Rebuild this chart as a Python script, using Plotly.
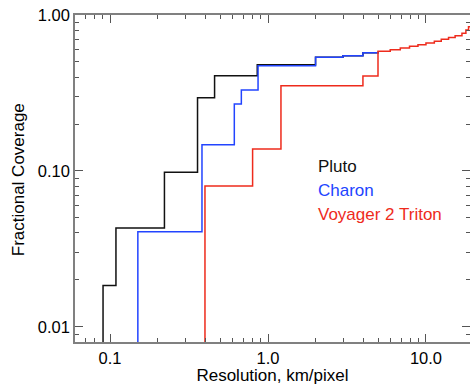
import plotly.graph_objects as go

# Resolution step positions (km/pixel) and cumulative fractional coverage after each step
pluto_x = [0.0903, 0.0903, 0.109, 0.221, 0.358, 0.459, 0.855, 2.0, 2.98, 3.99, 4.97]
pluto_y = [0.001, 0.0184, 0.043, 0.098, 0.295, 0.408, 0.479, 0.536, 0.548, 0.573, 0.582]

charon_x = [0.150, 0.150, 0.382, 0.612, 0.678, 0.865, 2.0, 2.98, 3.99, 4.97]
charon_y = [0.001, 0.0408, 0.147, 0.269, 0.331, 0.472, 0.536, 0.548, 0.573, 0.582]

triton_x = [0.399, 0.399, 0.799, 1.208, 3.99, 4.97, 5.94, 6.88, 7.87, 8.90, 10.0,
            11.3, 12.5, 13.9, 15.3, 16.9, 17.9, 18.6, 20.0]
triton_y = [0.001, 0.080, 0.138, 0.352, 0.406, 0.585, 0.599, 0.615, 0.630, 0.645, 0.661,
            0.678, 0.698, 0.716, 0.737, 0.763, 0.80, 0.84, 0.84]

series_names = ["Pluto", "Charon", "Voyager 2 Triton"]
series_colors = ["#111111", "#2244ff", "#ee2b1c"]

y_tickvals = [0.01, 0.1, 1.0]
y_ticktext = ["0.01", "0.10", "1.00"]
x_tickvals = [0.1, 1.0, 10.0]
x_ticktext = ["0.1", "1.0", "10.0"]
minor_vals = [k * 10.0 ** e for e in range(-3, 2) for k in range(2, 10)]

X_RANGE = [-1.2218, 1.2788]
Y_RANGE = [-2.097, 0.0]

FONT = "Liberation Sans, Arial, Helvetica, sans-serif"

fig = go.Figure()
# Triton lives on the overlay axes (identical ranges) so that those axes get drawn, on top
trace_axes = [("x", "y"), ("x", "y"), ("x2", "y2")]
for xs, ys, name, col, (xa, ya) in zip([pluto_x, charon_x, triton_x], [pluto_y, charon_y, triton_y],
                                       series_names, series_colors, trace_axes):
    fig.add_trace(go.Scatter(x=xs, y=ys, mode="lines", name=name, xaxis=xa, yaxis=ya,
                             line=dict(color=col, width=1.5, shape="hv"),
                             showlegend=False, cliponaxis=True))

for i, (name, col) in enumerate(zip(series_names, series_colors)):
    fig.add_annotation(x=0.609, y=0.538 - i * 0.0735, xref="paper", yref="paper",
                       text=name, showarrow=False, xanchor="left", yanchor="middle",
                       font=dict(family=FONT, size=17, color=col))

fig.add_annotation(x=-0.144, y=0.495, xref="paper", yref="paper", text="Fractional Coverage",
                   textangle=-90, showarrow=False, xanchor="center", yanchor="middle",
                   font=dict(family=FONT, size=17, color="black"))

axis_common = dict(type="log", showgrid=False, zeroline=False, showline=True,
                   linecolor="#808080", linewidth=1.5, mirror="allticks", automargin=False,
                   ticks="inside", ticklen=8, tickwidth=1.2, tickcolor="#555555",
                   tickfont=dict(family=FONT, size=16.5, color="black"))

minor_common = dict(type="log", showgrid=False, zeroline=False, showline=False,
                    mirror="allticks", automargin=False, showticklabels=False,
                    ticks="inside", ticklen=4, tickwidth=1.2, tickcolor="#555555",
                    tickmode="array", tickvals=minor_vals)

fig.update_layout(
    xaxis=dict(**axis_common, range=X_RANGE, tickvals=x_tickvals, ticktext=x_ticktext,
               title=dict(text="Resolution, km/pixel",
                          font=dict(family=FONT, size=17, color="black"))),
    yaxis=dict(**axis_common, range=Y_RANGE, tickvals=y_tickvals, ticktext=y_ticktext),
    xaxis2=dict(**minor_common, range=X_RANGE, overlaying="x", anchor="y2", side="bottom"),
    yaxis2=dict(**minor_common, range=Y_RANGE, overlaying="y", anchor="x2", side="left"),
)

fig.update_layout(width=470, height=385, margin=dict(l=75, r=0, t=15, b=43),
                  plot_bgcolor="white", paper_bgcolor="white",
                  font=dict(family=FONT, color="black"))

fig.write_html("out.html", config={"displayModeBar": False},
               post_script="document.body.style.margin='0px';")
